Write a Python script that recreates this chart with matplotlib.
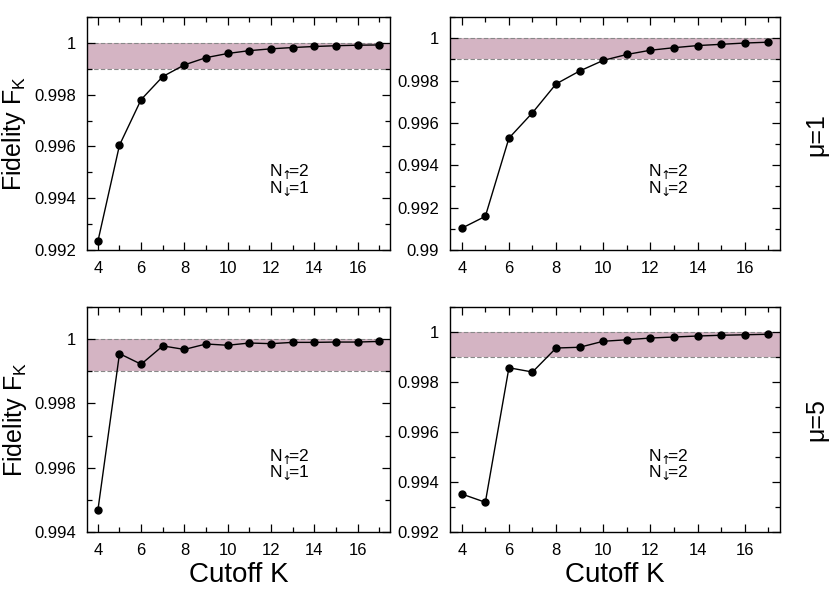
import numpy as np
import matplotlib
matplotlib.use("Agg")
import matplotlib.pyplot as plt
from matplotlib.ticker import MultipleLocator, FuncFormatter

plt.rcParams['font.family'] = ['Liberation Sans', 'DejaVu Sans']
plt.rcParams['mathtext.fontset'] = 'custom'
plt.rcParams['mathtext.rm'] = 'Liberation Sans'
plt.rcParams['mathtext.it'] = 'Liberation Sans:italic'

K = np.arange(4, 18)

# mu=1, N_up=2, N_down=1
fid_mu1_n21 = [0.99233, 0.99605, 0.99781, 0.99870, 0.99915, 0.99943, 0.99959,
               0.99970, 0.99977, 0.99982, 0.99986, 0.99989, 0.99991, 0.99992]
# mu=1, N_up=2, N_down=2
fid_mu1_n22 = [0.99103, 0.99159, 0.99528, 0.99648, 0.99784, 0.99845, 0.99895,
               0.99923, 0.99943, 0.99955, 0.99965, 0.99971, 0.99977, 0.99981]
# mu=5, N_up=2, N_down=1
fid_mu5_n21 = [0.99467, 0.99955, 0.99922, 0.99979, 0.99968, 0.99985, 0.99981,
               0.99988, 0.99986, 0.99990, 0.99990, 0.99991, 0.99991, 0.99993]
# mu=5, N_up=2, N_down=2
fid_mu5_n22 = [0.99352, 0.99319, 0.99857, 0.99840, 0.99936, 0.99939, 0.99963,
               0.99969, 0.99976, 0.99980, 0.99984, 0.99987, 0.99989, 0.99991]

up = r"N$\!_{\uparrow}\!\!$=2"
dn1 = r"N$\!_{\downarrow}\!\!$=1"
dn2 = r"N$\!_{\downarrow}\!\!$=2"

panels = [
    (fid_mu1_n21, 0.992, up + "\n" + dn1),
    (fid_mu1_n22, 0.990, up + "\n" + dn2),
    (fid_mu5_n21, 0.994, up + "\n" + dn1),
    (fid_mu5_n22, 0.992, up + "\n" + dn2),
]

band_lo, band_hi = 0.999, 1.0

fig = plt.figure(figsize=(8.4, 6.0), dpi=100)
rects = [
    [0.1036, 0.5833, 0.3607, 0.3884],
    [0.5357, 0.5833, 0.3929, 0.3884],
    [0.1036, 0.1133, 0.3607, 0.3750],
    [0.5357, 0.1133, 0.3929, 0.3750],
]

def fmt(v, pos):
    s = ("%.3f" % v).rstrip('0').rstrip('.')
    return s

for i, (vals, ymin, lab) in enumerate(panels):
    ax = fig.add_axes(rects[i])
    ax.axhspan(band_lo, band_hi, color='#d4b4c3', lw=0, zorder=0)
    ax.axhline(band_lo, color='#888888', ls=(0, (4, 2)), lw=0.8, zorder=1)
    ax.axhline(band_hi, color='#888888', ls=(0, (4, 2)), lw=0.8, zorder=1)
    ax.plot(K, vals, '-o', color='black', lw=1.0, ms=5, zorder=3)
    ax.set_xlim(3.5, 17.5)
    ax.set_ylim(ymin, 1.001)
    ax.xaxis.set_major_locator(MultipleLocator(2))
    ax.xaxis.set_minor_locator(MultipleLocator(1))
    ax.yaxis.set_major_locator(MultipleLocator(0.002))
    ax.yaxis.set_minor_locator(MultipleLocator(0.001))
    ax.yaxis.set_major_formatter(FuncFormatter(fmt))
    ax.tick_params(which='both', direction='in', top=True, right=True,
                   labelsize=12)
    ax.tick_params(axis='x', which='major', pad=8)
    ax.tick_params(axis='y', which='major', pad=8)
    ax.tick_params(which='major', length=6, width=0.9)
    ax.tick_params(which='minor', length=3.5, width=0.9)
    for sp in ax.spines.values():
        sp.set_linewidth(1.0)
    ax.text(0.6, 0.30, lab, transform=ax.transAxes, fontsize=12.5,
            ha='left', va='center', linespacing=0.85,
            math_fontfamily='dejavusans')
    if i % 2 == 0:
        ax.set_ylabel("Fidelity F$_\\mathrm{K}$", fontsize=18, labelpad=4)
    if i >= 2:
        ax.set_xlabel("Cutoff K", fontsize=20, labelpad=3)

fig.text(0.972, 0.775, "\u03bc=1", rotation=90, fontsize=18,
         ha='center', va='center')
fig.text(0.972, 0.30, "\u03bc=5", rotation=90, fontsize=18,
         ha='center', va='center')

fig.savefig("out.png", dpi=100)
